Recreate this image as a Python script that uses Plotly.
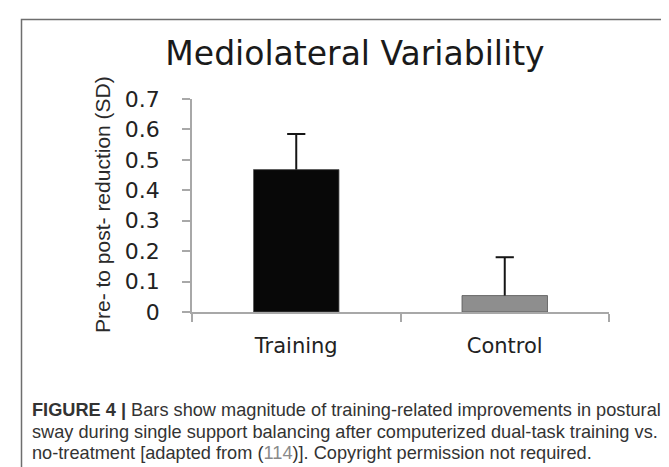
import plotly.graph_objects as go

# ---- data ----
categories = ["Training", "Control"]
values = [0.468, 0.054]
errors_up = [0.117, 0.126]
bar_colors = ["#080808", "#8e8e8e"]
y_tick_values = [0, 0.1, 0.2, 0.3, 0.4, 0.5, 0.6, 0.7]
y_tick_labels = ["0", "0.1", "0.2", "0.3", "0.4", "0.5", "0.6", "0.7"]

title_text = "Mediolateral Variability"
y_title_text = "Pre- to post- reduction (SD)"
caption_lines = [
    "<b>FIGURE 4 |</b> Bars show magnitude of training-related improvements in postural",
    "sway during single support balancing after computerized dual-task training vs.",
    "no-treatment [adapted from (<span style='color:#8a8a8a'>114</span>)]. Copyright permission not required.",
]

# ---- layout geometry (pixels) ----
W, H = 669, 467
L, R, T, B = 184, 68, 91, 163
PW, PH = W - L - R, H - T - B


def px_x(px):
    return (px - L) / PW


def px_y(py):
    return (H - B - py) / PH


fig = go.Figure()
fig.add_trace(go.Bar(
    x=categories,
    y=values,
    marker=dict(color=bar_colors, line=dict(color="#555555", width=0.8)),
    showlegend=False,
))

# upward-only error bars: stem from bar top to bar top + error, cap at the top
stem_x, stem_y = [], []
for c, v, e in zip(categories, values, errors_up):
    stem_x += [c, c, None]
    stem_y += [v, v + e, None]
fig.add_trace(go.Scatter(
    x=stem_x, y=stem_y, mode="lines",
    line=dict(color="#151515", width=2),
    showlegend=False, hoverinfo="skip",
))
fig.add_trace(go.Scatter(
    x=categories, y=[v + e for v, e in zip(values, errors_up)], mode="markers",
    marker=dict(symbol="line-ew", size=13, line=dict(color="#151515", width=2)),
    showlegend=False, hoverinfo="skip",
))

axis_grey = "#a8a8a8"
fig.update_layout(
    width=W, height=H,
    margin=dict(l=L, r=R, t=T, b=B, pad=0),
    paper_bgcolor="white", plot_bgcolor="white",
    bargap=0.59,
    title=dict(text=title_text, x=347 / W, y=1 - 45 / H, xanchor="center", yanchor="middle",
               xref="container", yref="container",
               font=dict(family="DejaVu Sans", size=33, color="#1a1a1a")),
    xaxis=dict(
        type="category", range=[-0.5, 1.5], tickson="boundaries",
        showline=True, linecolor=axis_grey, linewidth=1.5,
        ticks="outside", ticklen=8, tickwidth=1.5, tickcolor=axis_grey,
        showgrid=False, zeroline=False,
        ticklabelstandoff=14,
        tickfont=dict(family="DejaVu Sans", size=21, color="#222222"),
    ),
    yaxis=dict(
        range=[0, 0.7], tickvals=y_tick_values, ticktext=y_tick_labels,
        showline=True, linecolor=axis_grey, linewidth=1.5,
        ticks="outside", ticklen=8, tickwidth=1.5, tickcolor=axis_grey,
        showgrid=False, zeroline=False,
        ticklabelstandoff=18,
        tickfont=dict(family="DejaVu Sans", size=22, color="#222222"),
    ),
)

# y-axis title
fig.add_annotation(text=y_title_text, xref="paper", yref="paper",
                   x=px_x(94), y=px_y(197), textangle=-90, showarrow=False,
                   xanchor="center", yanchor="middle",
                   font=dict(family="Liberation Sans, Arial", size=21, color="#2a2a2a"))

# caption lines
caption_y = [402, 423.5, 445]
for line, cy in zip(caption_lines, caption_y):
    fig.add_annotation(text=line, xref="paper", yref="paper",
                       x=px_x(22), y=px_y(cy), showarrow=False,
                       xanchor="left", yanchor="middle",
                       font=dict(family="Liberation Sans, Arial", size=18.2, color="#333333"))

# figure frame
fig.add_shape(type="rect", xref="paper", yref="paper",
              x0=px_x(13.5), x1=px_x(667), y0=px_y(475), y1=px_y(11.5),
              line=dict(color="#6e6e6e", width=1.5), fillcolor="rgba(0,0,0,0)", layer="above")

fig.write_html("out.html")
